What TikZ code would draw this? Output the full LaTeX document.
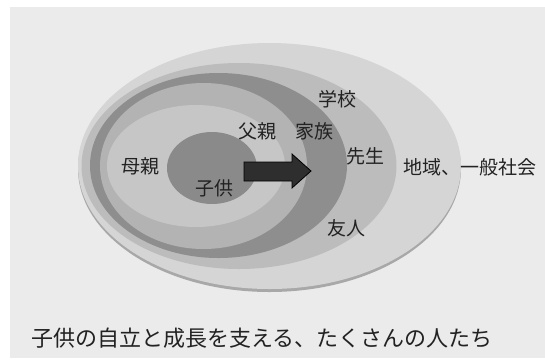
\documentclass[tikz,border=0pt]{standalone}
\usepackage{fontspec}
\newfontfamily\jp{Noto Sans CJK JP}
\definecolor{bgpanel}{HTML}{EBEBEB}
\definecolor{ringouter}{HTML}{D5D5D5}
\definecolor{ringshadow}{HTML}{A8A8A8}
\definecolor{ringschool}{HTML}{BCBCBC}
\definecolor{ringfamily}{HTML}{8E8E8E}
\definecolor{ringmid}{HTML}{B3B3B3}
\definecolor{ringlight}{HTML}{C6C6C6}
\definecolor{ringchild}{HTML}{8A8A8A}
\definecolor{arrowfill}{HTML}{2E2E2E}
\definecolor{txt}{HTML}{222222}
\tikzset{
  lbl/.style={font=\jp\fontsize{19}{19}\selectfont, text=txt, inner sep=0pt},
  captext/.style={font=\jp\fontsize{22}{22}\selectfont, text=txt, inner sep=0pt, anchor=west},
}
\begin{document}
\begin{tikzpicture}[x=1pt,y=-1pt]
\useasboundingbox (0,0) rectangle (545,360);
\fill[white] (0,0) rectangle (545,360);
\fill[bgpanel] (10,7) rectangle (545,358);
% rings
\fill[ringshadow] (269.5,168.5) ellipse [x radius=191.5, y radius=123.5];
\fill[ringouter] (269.5,166) ellipse [x radius=191.5, y radius=123];
\fill[ringschool] (239,166) ellipse [x radius=157.5, y radius=103];
\fill[ringfamily] (218.5,165.5) ellipse [x radius=128.5, y radius=92.5];
\fill[ringmid] (203.5,166) ellipse [x radius=103.5, y radius=83];
\fill[ringlight] (196,166) ellipse [x radius=89, y radius=61];
\fill[ringchild] (212,168) ellipse [x radius=45, y radius=36];
% arrow
\filldraw[fill=arrowfill, draw=black, line width=0.8pt, line join=miter]
  (244,162) -- (292,162) -- (292,154) -- (311,171) -- (292,188) -- (292,181) -- (244,181) -- cycle;
% labels
\node[lbl] (school) at (337,99) {学校};
\node[lbl] (father) at (257,131) {父親};
\node[lbl] (family) at (314,131) {家族};
\node[lbl] (mother) at (140,166) {母親};
\node[lbl] (child) at (214,188) {子供};
\node[lbl] (teacher) at (365,156) {先生};
\node[lbl] (friend) at (346,228) {友人};
\node[lbl, anchor=west] (society) at (403,167) {地域、一般社会};
\node[captext] (caption) at (31,338) {子供の自立と成長を支える、たくさんの人たち};
\end{tikzpicture}
\end{document}
